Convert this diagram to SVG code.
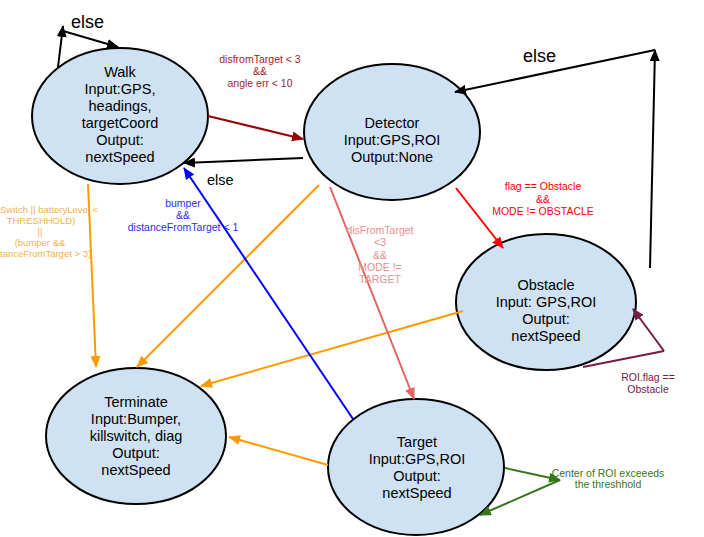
<svg xmlns="http://www.w3.org/2000/svg" width="704" height="537" viewBox="0 0 704 537">
<style>
.node ellipse{fill:#cfe2f3;stroke:#000;stroke-width:2}
.node text{font-family:"Liberation Sans",Arial,sans-serif;font-size:14.5px;fill:#000;text-anchor:middle}
.c{fill:none;stroke-width:2}
.lbl{font-family:"Liberation Sans",Arial,sans-serif;font-size:10.5px;text-anchor:middle}
.big{font-family:"Liberation Sans",Arial,sans-serif;font-size:18px;fill:#000}
</style>
<defs>
<marker id="aK" viewBox="0 0 12 10" refX="11" refY="5" markerWidth="12" markerHeight="10" markerUnits="userSpaceOnUse" orient="auto"><path d="M0,0 L12,5 L0,10 z" fill="#000"/></marker>
<marker id="aDR" viewBox="0 0 12 10" refX="11" refY="5" markerWidth="12" markerHeight="10" markerUnits="userSpaceOnUse" orient="auto"><path d="M0,0 L12,5 L0,10 z" fill="#990000"/></marker>
<marker id="aO" viewBox="0 0 12 10" refX="11" refY="5" markerWidth="12" markerHeight="10" markerUnits="userSpaceOnUse" orient="auto"><path d="M0,0 L12,5 L0,10 z" fill="#ff9900"/></marker>
<marker id="aB" viewBox="0 0 12 10" refX="11" refY="5" markerWidth="12" markerHeight="10" markerUnits="userSpaceOnUse" orient="auto"><path d="M0,0 L12,5 L0,10 z" fill="#0000ff"/></marker>
<marker id="aS" viewBox="0 0 12 10" refX="11" refY="5" markerWidth="12" markerHeight="10" markerUnits="userSpaceOnUse" orient="auto"><path d="M0,0 L12,5 L0,10 z" fill="#e06666"/></marker>
<marker id="aR" viewBox="0 0 12 10" refX="11" refY="5" markerWidth="12" markerHeight="10" markerUnits="userSpaceOnUse" orient="auto"><path d="M0,0 L12,5 L0,10 z" fill="#ff0000"/></marker>
<marker id="aP" viewBox="0 0 12 10" refX="11" refY="5" markerWidth="12" markerHeight="10" markerUnits="userSpaceOnUse" orient="auto"><path d="M0,0 L12,5 L0,10 z" fill="#741b47"/></marker>
<marker id="aG" viewBox="0 0 12 10" refX="11" refY="5" markerWidth="12" markerHeight="10" markerUnits="userSpaceOnUse" orient="auto"><path d="M0,0 L12,5 L0,10 z" fill="#38761d"/></marker>
</defs>
<rect width="704" height="537" fill="#fff"/>

<g id="walk" class="node">
<ellipse cx="120" cy="116" rx="88" ry="68"/>
<text x="120" y="77">Walk</text>
<text x="120" y="94">Input:GPS,</text>
<text x="120" y="111">headings,</text>
<text x="120" y="128">targetCoord</text>
<text x="120" y="145">Output:</text>
<text x="120" y="162">nextSpeed</text>
</g>
<g id="detector" class="node">
<ellipse cx="392" cy="132" rx="88" ry="68"/>
<text x="392" y="128">Detector</text>
<text x="392" y="145">Input:GPS,ROI</text>
<text x="392" y="162">Output:None</text>
</g>
<g id="obstacle" class="node">
<ellipse cx="546" cy="302" rx="90" ry="68"/>
<text x="546" y="290">Obstacle</text>
<text x="546" y="307">Input: GPS,ROI</text>
<text x="546" y="324">Output:</text>
<text x="546" y="341">nextSpeed</text>
</g>
<g id="terminate" class="node">
<ellipse cx="136" cy="436" rx="90" ry="68"/>
<text x="136" y="407">Terminate</text>
<text x="136" y="424">Input:Bumper,</text>
<text x="136" y="441">killswitch, diag</text>
<text x="136" y="458">Output:</text>
<text x="136" y="475">nextSpeed</text>
</g>
<g id="target" class="node">
<ellipse cx="416" cy="467" rx="88" ry="68"/>
<text x="417" y="447">Target</text>
<text x="417" y="464">Input:GPS,ROI</text>
<text x="417" y="481">Output:</text>
<text x="417" y="498">nextSpeed</text>
</g>

<g id="connectors">
<path class="c" stroke="#000" d="M58,67 L63,26" marker-end="url(#aK)"/>
<path class="c" stroke="#000" d="M63,31 L118,47" marker-end="url(#aK)"/>
<path class="c" stroke="#990000" d="M208,116 L303,139" marker-end="url(#aDR)"/>
<path class="c" stroke="#000" d="M303,158 L184,163" marker-end="url(#aK)"/>
<path class="c" stroke="#ff9900" d="M88,184 L96,367" marker-end="url(#aO)"/>
<path class="c" stroke="#ff9900" d="M319,185 L137,367" marker-end="url(#aO)"/>
<path class="c" stroke="#ff9900" d="M463,311 L201,386" marker-end="url(#aO)"/>
<path class="c" stroke="#ff9900" d="M328,465 L229,437" marker-end="url(#aO)"/>
<path class="c" stroke="#0000ff" d="M353,419 L184,168" marker-end="url(#aB)"/>
<path class="c" stroke="#e06666" d="M330,187 L414,399" marker-end="url(#aS)"/>
<path class="c" stroke="#ff0000" d="M456,188 L503,248" marker-end="url(#aR)"/>
<path class="c" stroke="#000" d="M650,268 L655,50" marker-end="url(#aK)"/>
<path class="c" stroke="#000" d="M655,50 L455,92" marker-end="url(#aK)"/>
<path class="c" stroke="#741b47" d="M583,367 L664,351" />
<path class="c" stroke="#741b47" d="M664,351 L633,309" marker-end="url(#aP)"/>
<path class="c" stroke="#38761d" d="M505,468 L560,480" marker-end="url(#aG)"/>
<path class="c" stroke="#38761d" d="M560,480 L480,515" marker-end="url(#aG)"/>

<text class="big" x="71" y="28">else</text>
<text class="big" x="523" y="62">else</text>
<text class="big" x="207" y="185" style="font-size:14.5px">else</text>

<g class="lbl" fill="#a61c1c">
<text x="260" y="63">disfromTarget &lt; 3</text>
<text x="260" y="75">&amp;&amp;</text>
<text x="260" y="87">angle err &lt; 10</text>
</g>
<g class="lbl" fill="#f6b04e" style="font-size:9.5px">
<text x="0" y="213" style="text-anchor:start">Switch || batteryLevel &lt;</text>
<text x="41" y="224">THRESHHOLD)</text>
<text x="40" y="235">||</text>
<text x="40" y="246">(bumper &amp;&amp;</text>
<text x="0" y="257" style="text-anchor:start">tanceFromTarget &gt; 3)</text>
</g>
<g class="lbl" fill="#2b2bff">
<text x="183" y="207">bumper</text>
<text x="183" y="219">&amp;&amp;</text>
<text x="183" y="231">distanceFromTarget &lt; 1</text>
</g>
<g class="lbl" fill="#e6918a">
<text x="380" y="234">disFromTarget</text>
<text x="380" y="246">&lt;3</text>
<text x="380" y="259">&amp;&amp;</text>
<text x="380" y="271">MODE !=</text>
<text x="380" y="283">TARGET</text>
</g>
<g class="lbl" fill="#ff0000">
<text x="543" y="190">flag == Obstacle</text>
<text x="543" y="203">&amp;&amp;</text>
<text x="543" y="215">MODE != OBSTACLE</text>
</g>
<g class="lbl" fill="#741b47">
<text x="648" y="381">ROI.flag ==</text>
<text x="648" y="393">Obstacle</text>
</g>
<g class="lbl" fill="#38761d">
<text x="608" y="477">Center of ROI exceeeds</text>
<text x="608" y="488">the threshhold</text>
</g>
</g>
</svg>
